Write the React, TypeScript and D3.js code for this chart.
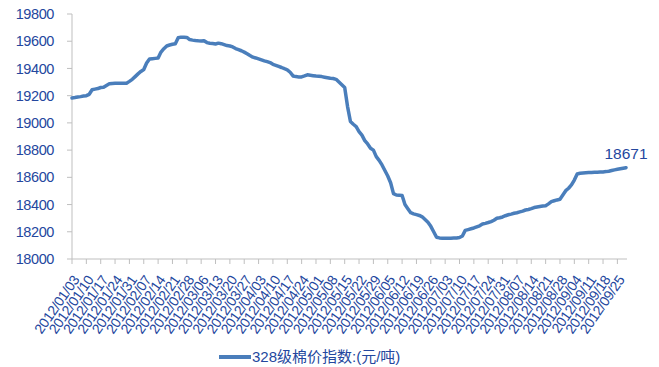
import React from "react";
import * as d3 from "d3";

// Weekly axis labels (every 5th trading day)
const tickLabels = [
  "2012/01/03", "2012/01/10", "2012/01/17", "2012/01/24", "2012/01/31",
  "2012/02/07", "2012/02/14", "2012/02/21", "2012/02/28", "2012/03/06",
  "2012/03/13", "2012/03/20", "2012/03/27", "2012/04/03", "2012/04/10",
  "2012/04/17", "2012/04/24", "2012/05/01", "2012/05/08", "2012/05/15",
  "2012/05/22", "2012/05/29", "2012/06/05", "2012/06/12", "2012/06/19",
  "2012/06/26", "2012/07/03", "2012/07/10", "2012/07/17", "2012/07/24",
  "2012/07/31", "2012/08/07", "2012/08/14", "2012/08/21", "2012/08/28",
  "2012/09/04", "2012/09/11", "2012/09/18", "2012/09/25",
];

// Daily 328 cotton index, yuan/ton
const cottonIndex = [
  19183, 19186, 19190, 19193, 19197, 19200, 19210, 19243, 19248, 19252,
  19260, 19262, 19275, 19287, 19290, 19291, 19291, 19292, 19292, 19292,
  19305, 19320, 19340, 19360, 19378, 19392, 19440, 19470, 19472, 19474,
  19476, 19520, 19545, 19565, 19572, 19578, 19582, 19625, 19630, 19630,
  19628, 19612, 19608, 19605, 19603, 19602, 19604, 19590, 19585, 19583,
  19580, 19586, 19582, 19575, 19568, 19565, 19558, 19546, 19538, 19530,
  19520, 19508, 19495, 19483, 19477, 19470, 19463, 19456, 19450, 19443,
  19430, 19423, 19415, 19407, 19398, 19390, 19372, 19345, 19340, 19338,
  19338, 19345, 19353, 19350, 19347, 19344, 19342, 19340, 19336, 19332,
  19328, 19326, 19320, 19300, 19280, 19260, 19120, 19010, 18990, 18973,
  18936, 18910, 18870, 18845, 18814, 18800, 18752, 18725, 18691, 18650,
  18610, 18560, 18480, 18470, 18468, 18466, 18400, 18370, 18340, 18332,
  18326, 18320, 18310, 18290, 18270, 18240, 18200, 18160, 18155, 18153,
  18152, 18152, 18153, 18154, 18155, 18158, 18169, 18210, 18216, 18222,
  18228, 18236, 18244, 18257, 18262, 18268, 18275, 18285, 18299, 18303,
  18309, 18318, 18325, 18330, 18336, 18340, 18346, 18352, 18360, 18364,
  18370, 18378, 18382, 18386, 18390, 18392, 18405, 18421, 18428, 18434,
  18439, 18470, 18502, 18520, 18544, 18580, 18625, 18630, 18632, 18634,
  18635, 18636, 18637, 18638, 18639, 18640, 18642, 18645, 18650, 18655,
  18659, 18663, 18667, 18671,
];

const yTicks = [18000, 18200, 18400, 18600, 18800, 19000, 19200, 19400, 19600, 19800];
const legendLabel = "328级棉价指数:(元/吨)";

const W = 659;
const H = 367;
const LINE = "#4a7ebb";
const TEXT = "#24479e";
const AXIS = "#bfbfbf";
const NUM_FONT = "'Liberation Sans', Arial, sans-serif";

export default function App() {
  const x = d3.scaleLinear().domain([0, cottonIndex.length - 1]).range([72, 626]);
  const y = d3.scaleLinear().domain([18000, 19800]).range([259, 14]);
  const line = d3
    .line<number>()
    .x((_, i) => x(i))
    .y((d) => y(d));

  const tickIdx = tickLabels.map((_, k) => k * 5);
  const last = cottonIndex.length - 1;

  return (
    <svg
      width={W}
      height={H}
      style={{ position: "absolute", left: 0, top: 0, background: "#fff" }}
    >
      {/* y axis */}
      <line x1={72} x2={72} y1={y(19800)} y2={y(18000)} stroke={AXIS} />
      {yTicks.map((t) => (
        <g key={t}>
          <line x1={67} x2={72} y1={y(t)} y2={y(t)} stroke={AXIS} />
          <text
            x={54}
            y={y(t)}
            dy="0.35em"
            textAnchor="end"
            fontFamily={NUM_FONT}
            fontSize={14.5}
            fill={TEXT}
            letterSpacing={-0.4}
          >
            {t}
          </text>
        </g>
      ))}

      {/* x axis */}
      <line x1={72} x2={627} y1={259} y2={259} stroke={AXIS} />
      {tickIdx.map((i, k) => (
        <g key={i}>
          <line x1={x(i)} x2={x(i)} y1={259} y2={264} stroke={AXIS} />
          <text
            transform={`translate(${x(i) + 4},${277}) rotate(-55)`}
            textAnchor="end"
            dy="0.35em"
            fontFamily={NUM_FONT}
            fontSize={14}
            fill={TEXT}
            letterSpacing={-0.3}
          >
            {tickLabels[k]}
          </text>
        </g>
      ))}

      {/* series */}
      <path
        d={line(cottonIndex) ?? ""}
        fill="none"
        stroke={LINE}
        strokeWidth={3.5}
        strokeLinejoin="round"
        strokeLinecap="round"
      />
      <text
        x={x(last)}
        y={y(cottonIndex[last]) - 9}
        textAnchor="middle"
        fontFamily={NUM_FONT}
        fontSize={15.5}
        fill={TEXT}
      >
        {cottonIndex[last]}
      </text>

      {/* legend */}
      <line x1={219} x2={251} y1={357} y2={357} stroke={LINE} strokeWidth={4} />
      <text
        x={252}
        y={357}
        dy="0.36em"
        fontFamily="'Liberation Sans', 'Noto Sans CJK SC', sans-serif"
        fontSize={15}
        fill={TEXT}
      >
        {legendLabel}
      </text>
    </svg>
  );
}
